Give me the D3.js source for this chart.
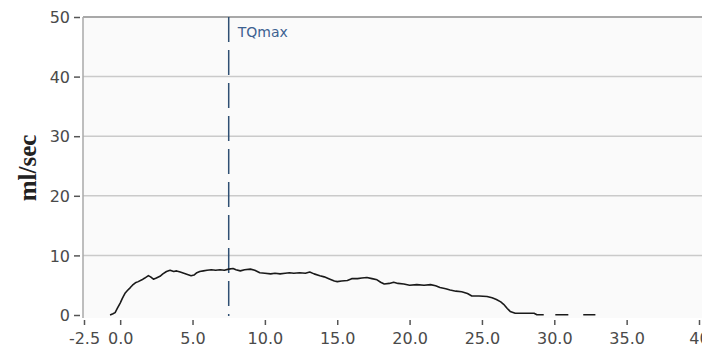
<!DOCTYPE html>
<html>
<head>
<meta charset="utf-8">
<script src="https://cdn.jsdelivr.net/npm/d3@7"></script>
<style>
  html, body { margin: 0; padding: 0; background: #fff; }
  svg { display: block; }
</style>
</head>
<body>
<svg id="chart" width="702" height="351"></svg>
<script>
// ---- data ----
const xTicks = [-2.5, 0, 5, 10, 15, 20, 25, 30, 35, 40];
const xTickLabels = ["-2.5", "0.0", "5.0", "10.0", "15.0", "20.0", "25.0", "30.0", "35.0", "40"];
const yTicks = [0, 10, 20, 30, 40, 50];
const yLabel = "ml/sec";
const markerName = "TQmax";
const markerX = 7.5;
// flow curve time (s) and flow (ml/sec); null = gap
const flowTime = [-0.7,-0.5,-0.35,-0.2,0,0.15,0.35,0.5,0.7,0.85,1.05,1.25,1.5,1.7,1.95,2.1,2.3,2.5,2.75,2.95,
  3.2,3.45,3.7,3.9,4.15,4.4,4.65,4.9,5.1,5.3,5.5,5.75,6.0,6.3,6.6,6.9,7.2,7.5,7.8,8.0,
  8.3,8.6,9.0,9.3,9.65,10.0,10.4,10.7,11.05,11.4,11.7,12.0,12.4,12.8,13.1,13.4,13.8,14.1,14.5,14.8,
  15.0,15.3,15.7,16.0,16.4,16.7,17.05,17.4,17.75,18.0,18.25,18.6,18.9,19.2,19.6,20.0,20.5,21.0,21.45,21.8,
  22.1,22.5,22.8,23.2,23.6,24.0,24.3,24.8,25.35,25.7,26.0,26.3,26.5,26.75,26.95,27.3,28.0,28.6,28.8,29.27,
  29.6,30.07,30.97,31.4,32.0,32.84];
const flowValue = [0,0.2,0.4,1.1,2.0,2.8,3.7,4.1,4.6,5.0,5.4,5.6,5.9,6.2,6.6,6.4,6.0,6.2,6.5,6.9,
  7.3,7.5,7.3,7.4,7.2,7.0,6.8,6.6,6.7,7.1,7.3,7.4,7.5,7.6,7.5,7.6,7.5,7.7,7.8,7.6,
  7.4,7.6,7.7,7.5,7.1,7.0,6.9,7.0,6.9,7.0,7.1,7.0,7.1,7.0,7.2,6.9,6.6,6.4,6.0,5.7,
  5.6,5.7,5.8,6.1,6.1,6.2,6.3,6.1,5.9,5.5,5.2,5.3,5.5,5.3,5.2,5.0,5.1,5.0,5.1,4.9,
  4.6,4.4,4.2,4.0,3.9,3.6,3.2,3.2,3.1,2.9,2.6,2.2,1.8,1.1,0.6,0.3,0.3,0.3,0.05,0.05,
  null,0.05,0.05,null,0.05,0.05];

// ---- layout ----
const W = 702, H = 351;
const plotLeft = 83, plotTop = 17, plotBottom = 318;
const x = d3.scaleLinear().domain([-2.5, 40]).range([84, 699]);
const y = d3.scaleLinear().domain([0, 50]).range([315, 17]);

const svg = d3.select("#chart");
const font = "'DejaVu Sans', Verdana, sans-serif";

// plot background
svg.append("rect").attr("x", plotLeft).attr("y", plotTop)
  .attr("width", W - plotLeft).attr("height", plotBottom - plotTop)
  .attr("fill", "#fafafa");

// gridlines
svg.append("g").selectAll("line").data(yTicks.filter(d => d > 0)).join("line")
  .attr("x1", plotLeft).attr("x2", W)
  .attr("y1", d => y(d)).attr("y2", d => y(d))
  .attr("stroke", d => d === 50 ? "#a8a8a8" : "#cacaca")
  .attr("stroke-width", d => d === 50 ? 2 : 1.5);

// left border
svg.append("line").attr("x1", plotLeft).attr("x2", plotLeft)
  .attr("y1", plotTop).attr("y2", plotBottom)
  .attr("stroke", "#a8a8a8").attr("stroke-width", 1.5);

// y axis
const yAxis = d3.axisLeft(y).tickValues(yTicks).tickFormat(d3.format("d"))
  .tickSize(6).tickPadding(4);
const gy = svg.append("g").attr("transform", `translate(${plotLeft - 3},0)`).call(yAxis);
gy.select(".domain").remove();
gy.selectAll(".tick line").attr("stroke", "#555").attr("stroke-width", 1.5);
gy.selectAll(".tick text").attr("font-family", font).attr("font-size", 16)
  .attr("fill", "#4a4a4a").attr("dy", "0.36em");

// x axis
const xAxis = d3.axisBottom(x).tickValues(xTicks)
  .tickFormat((d, i) => xTickLabels[i]).tickSize(5).tickPadding(8);
const gx = svg.append("g").attr("transform", `translate(0,${320})`).call(xAxis);
gx.select(".domain").remove();
gx.selectAll(".tick line").attr("stroke", "#555").attr("stroke-width", 1.5);
gx.selectAll(".tick text").attr("font-family", font).attr("font-size", 16)
  .attr("fill", "#4a4a4a");

// y label
svg.append("text")
  .attr("transform", `translate(36,168) rotate(-90)`)
  .attr("text-anchor", "middle")
  .attr("font-family", "'Liberation Serif', 'Times New Roman', serif")
  .attr("font-weight", "bold").attr("font-size", 25)
  .attr("fill", "#222")
  .text(yLabel);

// marker line
svg.append("line")
  .attr("x1", x(markerX)).attr("x2", x(markerX))
  .attr("y1", y(50)).attr("y2", plotBottom - 2)
  .attr("stroke", "#2f4f73").attr("stroke-width", 1.5)
  .attr("stroke-dasharray", "25,8");
svg.append("text")
  .attr("x", x(markerX) + 9).attr("y", 37)
  .attr("font-family", font).attr("font-size", 14)
  .attr("fill", "#3d6191")
  .text(markerName);

// flow curve
const flow = flowTime.map((t, i) => ({ t, v: flowValue[i] }));
const line = d3.line().defined(d => d.v !== null)
  .x(d => x(d.t)).y(d => y(d.v));
svg.append("path").datum(flow)
  .attr("d", line)
  .attr("fill", "none").attr("stroke", "#1a1a1a").attr("stroke-width", 1.6)
  .attr("stroke-linejoin", "round");
</script>
</body>
</html>
